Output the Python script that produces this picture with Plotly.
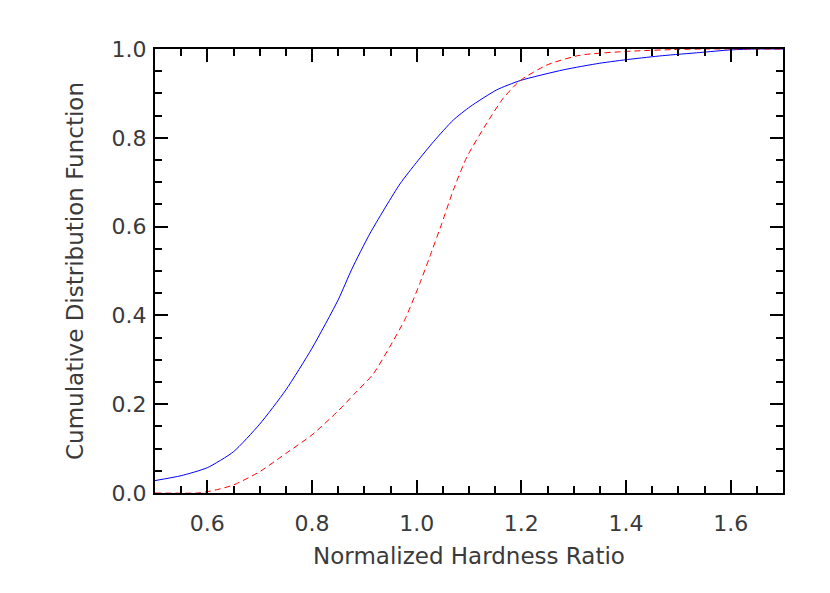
import plotly.graph_objects as go

# blue solid curve
blue_x = [0.5, 0.55, 0.6, 0.65, 0.7, 0.75, 0.8, 0.85, 0.876, 0.911, 0.968, 1.0, 1.032,
          1.07, 1.102, 1.153, 1.198, 1.28, 1.35, 1.408, 1.47, 1.541, 1.6, 1.65, 1.7]
blue_y = [0.028, 0.039, 0.057, 0.093, 0.155, 0.232, 0.326, 0.435, 0.504, 0.585, 0.696,
          0.745, 0.791, 0.840, 0.870, 0.908, 0.929, 0.953, 0.968, 0.977, 0.985, 0.992,
          0.998, 1.0, 1.0]

# red dashed curve
red_x = [0.5, 0.58, 0.6, 0.62, 0.65, 0.7, 0.75, 0.8, 0.85, 0.88, 0.917, 0.949, 0.978,
         1.006, 1.025, 1.048, 1.07, 1.096, 1.134, 1.166, 1.198, 1.249, 1.312, 1.408, 1.5,
         1.55, 1.7]
red_y = [0.0, 0.0, 0.003, 0.008, 0.018, 0.048, 0.089, 0.131, 0.185, 0.222, 0.268, 0.330,
         0.392, 0.472, 0.532, 0.607, 0.682, 0.757, 0.833, 0.890, 0.929, 0.964, 0.986,
         0.995, 0.999, 1.0, 1.0]

x_title = 'Normalized Hardness Ratio'
y_title = 'Cumulative Distribution Function'

fig = go.Figure()

fig.add_trace(go.Scatter(
    x=blue_x, y=blue_y, mode='lines',
    line=dict(color='#0000ff', width=1, shape='spline', smoothing=0.6),
    showlegend=False
))

fig.add_trace(go.Scatter(
    x=red_x, y=red_y, mode='lines',
    line=dict(color='#ff0000', width=1, dash='6px,4px', shape='spline', smoothing=0.6),
    showlegend=False
))

tick_font = dict(family='DejaVu Sans', color='#3a3a3a', size=22)
title_font = dict(family='DejaVu Sans', color='#3a3a3a', size=23)

axis_common = dict(
    showgrid=False,
    zeroline=False,
    showline=True,
    linecolor='black',
    linewidth=2,
    mirror='allticks',
    ticks='inside',
    ticklen=13,
    tickwidth=2,
    tickcolor='black',
    tickfont=tick_font,
    title_font=title_font,
)

fig.update_xaxes(
    axis_common,
    range=[0.5, 1.7],
    tick0=0, dtick=0.2,
    tickformat='.1f',
    ticklabelstandoff=10,
    minor=dict(dtick=0.05, ticks='inside', ticklen=7, tickwidth=2, tickcolor='black'),
    title_text=x_title,
    title_standoff=12,
)

fig.update_yaxes(
    axis_common,
    range=[0, 1],
    tick0=0, dtick=0.2,
    tickformat='.1f',
    ticklabelstandoff=2,
    minor=dict(dtick=0.05, ticks='inside', ticklen=7, tickwidth=2, tickcolor='black'),
    title_text=y_title,
    title_standoff=22,
)

# page body has an 8px margin, so the figure is shrunk by that much
fig.update_layout(
    width=822, height=585,
    margin=dict(l=147, r=47, t=41, b=100),
    plot_bgcolor='white',
    paper_bgcolor='white',
)

fig.write_html("out.html")
